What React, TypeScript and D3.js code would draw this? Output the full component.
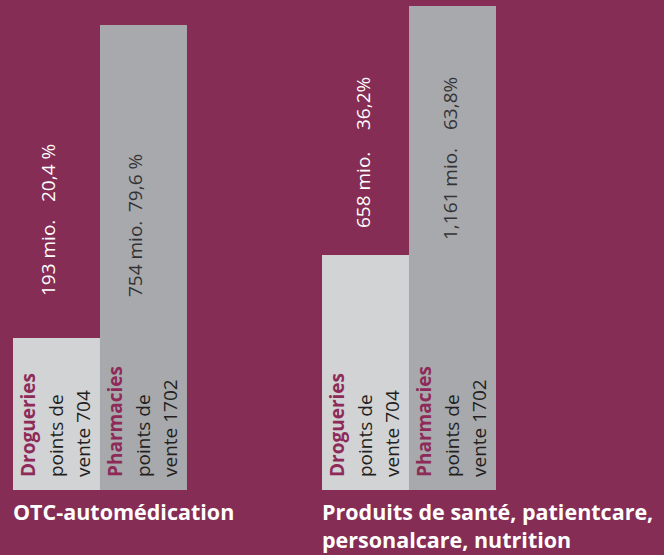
import React from "react";
import * as d3 from "d3";

// ---- data ----
const groups = ["OTC-automédication", "Produits de santé, patientcare, personalcare, nutrition"];
const groupTitleLines = [["OTC-automédication"], ["Produits de santé, patientcare,", "personalcare, nutrition"]];
const series = ["Drogueries", "Pharmacies"];
const outletLine1 = ["points de", "points de"];
const outletLine2 = ["vente 704", "vente 1702"];
const drogValues = [193, 658]; // mio.
const pharmValues = [754, 1161]; // mio.
const valueLabels = [["193 mio.", "754 mio."], ["658 mio.", "1,161 mio."]];
const pctLabels = [["20,4 %", "79,6 %"], ["36,2%", "63,8%"]];

const W = 664;
const H = 555;
const BG = "#852D54";
const BAR_COLORS = ["#D2D3D5", "#A7A9AC"];
const FONT = "'Open Sans', 'Noto Sans', sans-serif";

export default function App() {
  const baseY = 490;
  const x0 = d3.scaleBand<string>().domain(groups).range([13, 496]).paddingInner(0.437).paddingOuter(0);
  const x1 = d3.scaleBand<string>().domain(series).range([0, x0.bandwidth()]).padding(0);

  // The source graphic's bar heights are not proportional to the values;
  // a polylinear scale reproduces the printed heights.
  const allVals = [...drogValues, ...pharmValues].sort((a, b) => a - b);
  const y = d3.scaleLinear().domain([0, ...allVals]).range([baseY, 338, 255, 25, 6]);

  const rows = groups.map((g, gi) => [drogValues[gi], pharmValues[gi]]);

  // label layout (text placement in the source graphic)
  const valueOffsetX = [42, 48];
  const mioStartY = [[296, 297], [228, 240]];
  const pctStartY = [[202, 212], [130, 130]];

  const rot = (x: number, yy: number) => `translate(${x},${yy}) rotate(-90)`;

  return (
    <svg width={W} height={H} style={{ position: "absolute", left: 0, top: 0 }} fontFamily={FONT}>
      <rect x={0} y={0} width={W} height={H} fill={BG} />
      {groups.map((g, gi) => {
        const gx = x0(g)!;
        return (
          <g key={g}>
            {series.map((s, si) => {
              const v = rows[gi][si];
              const bx = gx + x1(s)!;
              const by = y(v);
              const textFill = si === 0 ? "#FFFFFF" : "#333335";
              const vx = bx + valueOffsetX[gi];
              return (
                <g key={s}>
                  <rect x={bx} y={by} width={x1.bandwidth()} height={baseY - by} fill={BAR_COLORS[si]} />
                  <text transform={rot(vx, mioStartY[gi][si])} fontSize={19} fill={textFill}>
                    {valueLabels[gi][si]}
                  </text>
                  <text transform={rot(vx, pctStartY[gi][si])} fontSize={19} fill={textFill}>
                    {pctLabels[gi][si]}
                  </text>
                  <text transform={rot(bx + 22, 477)} fontSize={19} fontWeight="bold" fill="#8E2A58">
                    {s}
                  </text>
                  <text transform={rot(bx + 50, 477)} fontSize={19} fill="#231F20">
                    {outletLine1[si]}
                  </text>
                  <text transform={rot(bx + 77, 477)} fontSize={19} fill="#231F20">
                    {outletLine2[si]}
                  </text>
                </g>
              );
            })}
            {groupTitleLines[gi].map((line, li) => (
              <text key={li} x={gx} y={520 + li * 28} fontSize={21.5} fontWeight="bold" fill="#FFFFFF">
                {line}
              </text>
            ))}
          </g>
        );
      })}
    </svg>
  );
}
